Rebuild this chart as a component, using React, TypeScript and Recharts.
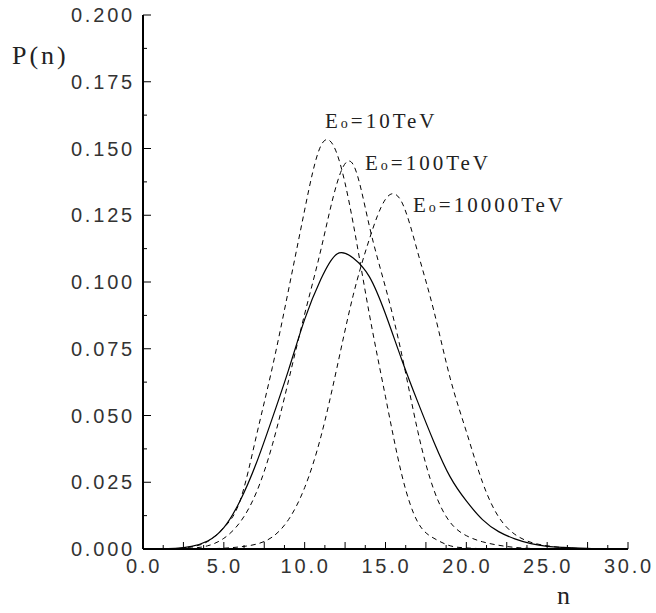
import { Line, LineChart, XAxis, YAxis } from "recharts";

// multiplicity n and the four distributions
const nValues = [0, 1, 2, 3, 4, 5, 6, 7, 8, 9, 10, 11, 12, 13, 14, 15, 16, 17, 18, 19, 20, 21, 22, 23, 24, 25, 26, 27, 28, 29, 30];
const pSolid = [0, 0, 0.0002, 0.001, 0.003, 0.008, 0.018, 0.032, 0.049, 0.067, 0.086, 0.101, 0.1105, 0.109, 0.102, 0.088, 0.071, 0.055, 0.04, 0.027, 0.018, 0.011, 0.0065, 0.0038, 0.002, 0.001, 0.0006, 0.0003, 0.0001, 0, 0];
const pE10 = [0, 0, 0.0001, 0.0008, 0.0028, 0.008, 0.018, 0.042, 0.068, 0.097, 0.127, 0.151, 0.148, 0.122, 0.088, 0.057, 0.028, 0.01, 0.004, 0.0012, 0.0004, 0.0001, 0, 0, 0, 0, 0, 0, 0, 0, 0];
const pE100 = [0, 0, 0, 0.0003, 0.0012, 0.004, 0.01, 0.021, 0.039, 0.063, 0.088, 0.112, 0.137, 0.144, 0.121, 0.098, 0.073, 0.044, 0.022, 0.01, 0.005, 0.0027, 0.0014, 0.0006, 0.0002, 0, 0, 0, 0, 0, 0];
const pE10000 = [0, 0, 0, 0, 0.0001, 0.0003, 0.0008, 0.0018, 0.0045, 0.011, 0.023, 0.042, 0.068, 0.095, 0.116, 0.131, 0.13, 0.111, 0.089, 0.064, 0.044, 0.025, 0.012, 0.0055, 0.0025, 0.0012, 0.0005, 0.0002, 0.0001, 0, 0];

const xTicks = [0, 1.25, 2.5, 3.75, 5, 6.25, 7.5, 8.75, 10, 11.25, 12.5, 13.75, 15, 16.25, 17.5, 18.75, 20, 21.25, 22.5, 23.75, 25, 26.25, 27.5, 28.75, 30];
const yTicks = [0, 0.0125, 0.025, 0.0375, 0.05, 0.0625, 0.075, 0.0875, 0.1, 0.1125, 0.125, 0.1375, 0.15, 0.1625, 0.175, 0.1875, 0.2];

const labels = [
  { num: "=10TeV", x: 325, y: 128 },
  { num: "=100TeV", x: 365, y: 170 },
  { num: "=10000TeV", x: 413, y: 212 },
];

const data = nValues.map((n, i) => ({
  n,
  solid: pSolid[i],
  e10: pE10[i],
  e100: pE100[i],
  e10000: pE10000[i],
}));

const tickFont = {
  fontFamily: "Liberation Sans",
  fontSize: 20,
  fill: "#333",
  letterSpacing: 2.8,
};

function XTick(props: any) {
  const { x, y, payload } = props;
  const step = Math.round(payload.value / 1.25);
  const len = step % 2 === 0 ? 7 : 4;
  return (
    <g>
      <line x1={x} y1={y} x2={x} y2={y - len} stroke="#000" />
      {step % 4 === 0 && (
        <text x={x + 1} y={y + 24} textAnchor="middle" {...tickFont}>
          {payload.value.toFixed(1)}
        </text>
      )}
    </g>
  );
}

function YTick(props: any) {
  const { x, y, payload } = props;
  const step = Math.round(payload.value / 0.0125);
  const len = step % 2 === 0 ? 8 : 4;
  return (
    <g>
      <line x1={x} y1={y} x2={x + len} y2={y} stroke="#000" />
      {step % 2 === 0 && (
        <text x={x - 8} y={y + 7} textAnchor="end" {...tickFont}>
          {payload.value.toFixed(3)}
        </text>
      )}
    </g>
  );
}

export default function App() {
  return (
    <div style={{ position: "absolute", left: 0, top: 0, width: 656, height: 613, background: "#fff" }}>
      <LineChart width={656} height={613} data={data} margin={{ top: 15, right: 28, left: 0, bottom: 0 }}>
        <XAxis
          dataKey="n"
          type="number"
          domain={[0, 30]}
          ticks={xTicks}
          interval={0}
          height={64}
          tickSize={0}
          tickMargin={0}
          tickLine={false}
          axisLine={{ stroke: "#000", strokeWidth: 2 }}
          tick={<XTick />}
        />
        <YAxis
          type="number"
          domain={[0, 0.2]}
          ticks={yTicks}
          interval={0}
          width={143}
          tickSize={0}
          tickMargin={0}
          tickLine={false}
          axisLine={{ stroke: "#000", strokeWidth: 2 }}
          tick={<YTick />}
        />
        <Line type="natural" dataKey="solid" stroke="#000" strokeWidth={1.2} dot={false} isAnimationActive={false} />
        <Line type="natural" dataKey="e10" stroke="#000" strokeWidth={1} strokeDasharray="5 4" dot={false} isAnimationActive={false} />
        <Line type="natural" dataKey="e100" stroke="#000" strokeWidth={1} strokeDasharray="5 4" dot={false} isAnimationActive={false} />
        <Line type="natural" dataKey="e10000" stroke="#000" strokeWidth={1} strokeDasharray="5 4" dot={false} isAnimationActive={false} />
      </LineChart>
      <svg width={656} height={613} style={{ position: "absolute", left: 0, top: 0, pointerEvents: "none" }}>
        <text x={12} y={64} fontFamily="Liberation Serif" fontSize={26} letterSpacing={3} fill="#222">
          P(n)
        </text>
        <text x={557} y={604} fontFamily="Liberation Serif" fontSize={26} fill="#222">
          n
        </text>
        {labels.map((l) => (
          <text key={l.num} x={l.x} y={l.y} fontFamily="Liberation Serif" fontSize={21} letterSpacing={3} fill="#222">
            E<tspan fontSize={14}>o</tspan>
            {l.num}
          </text>
        ))}
      </svg>
    </div>
  );
}
